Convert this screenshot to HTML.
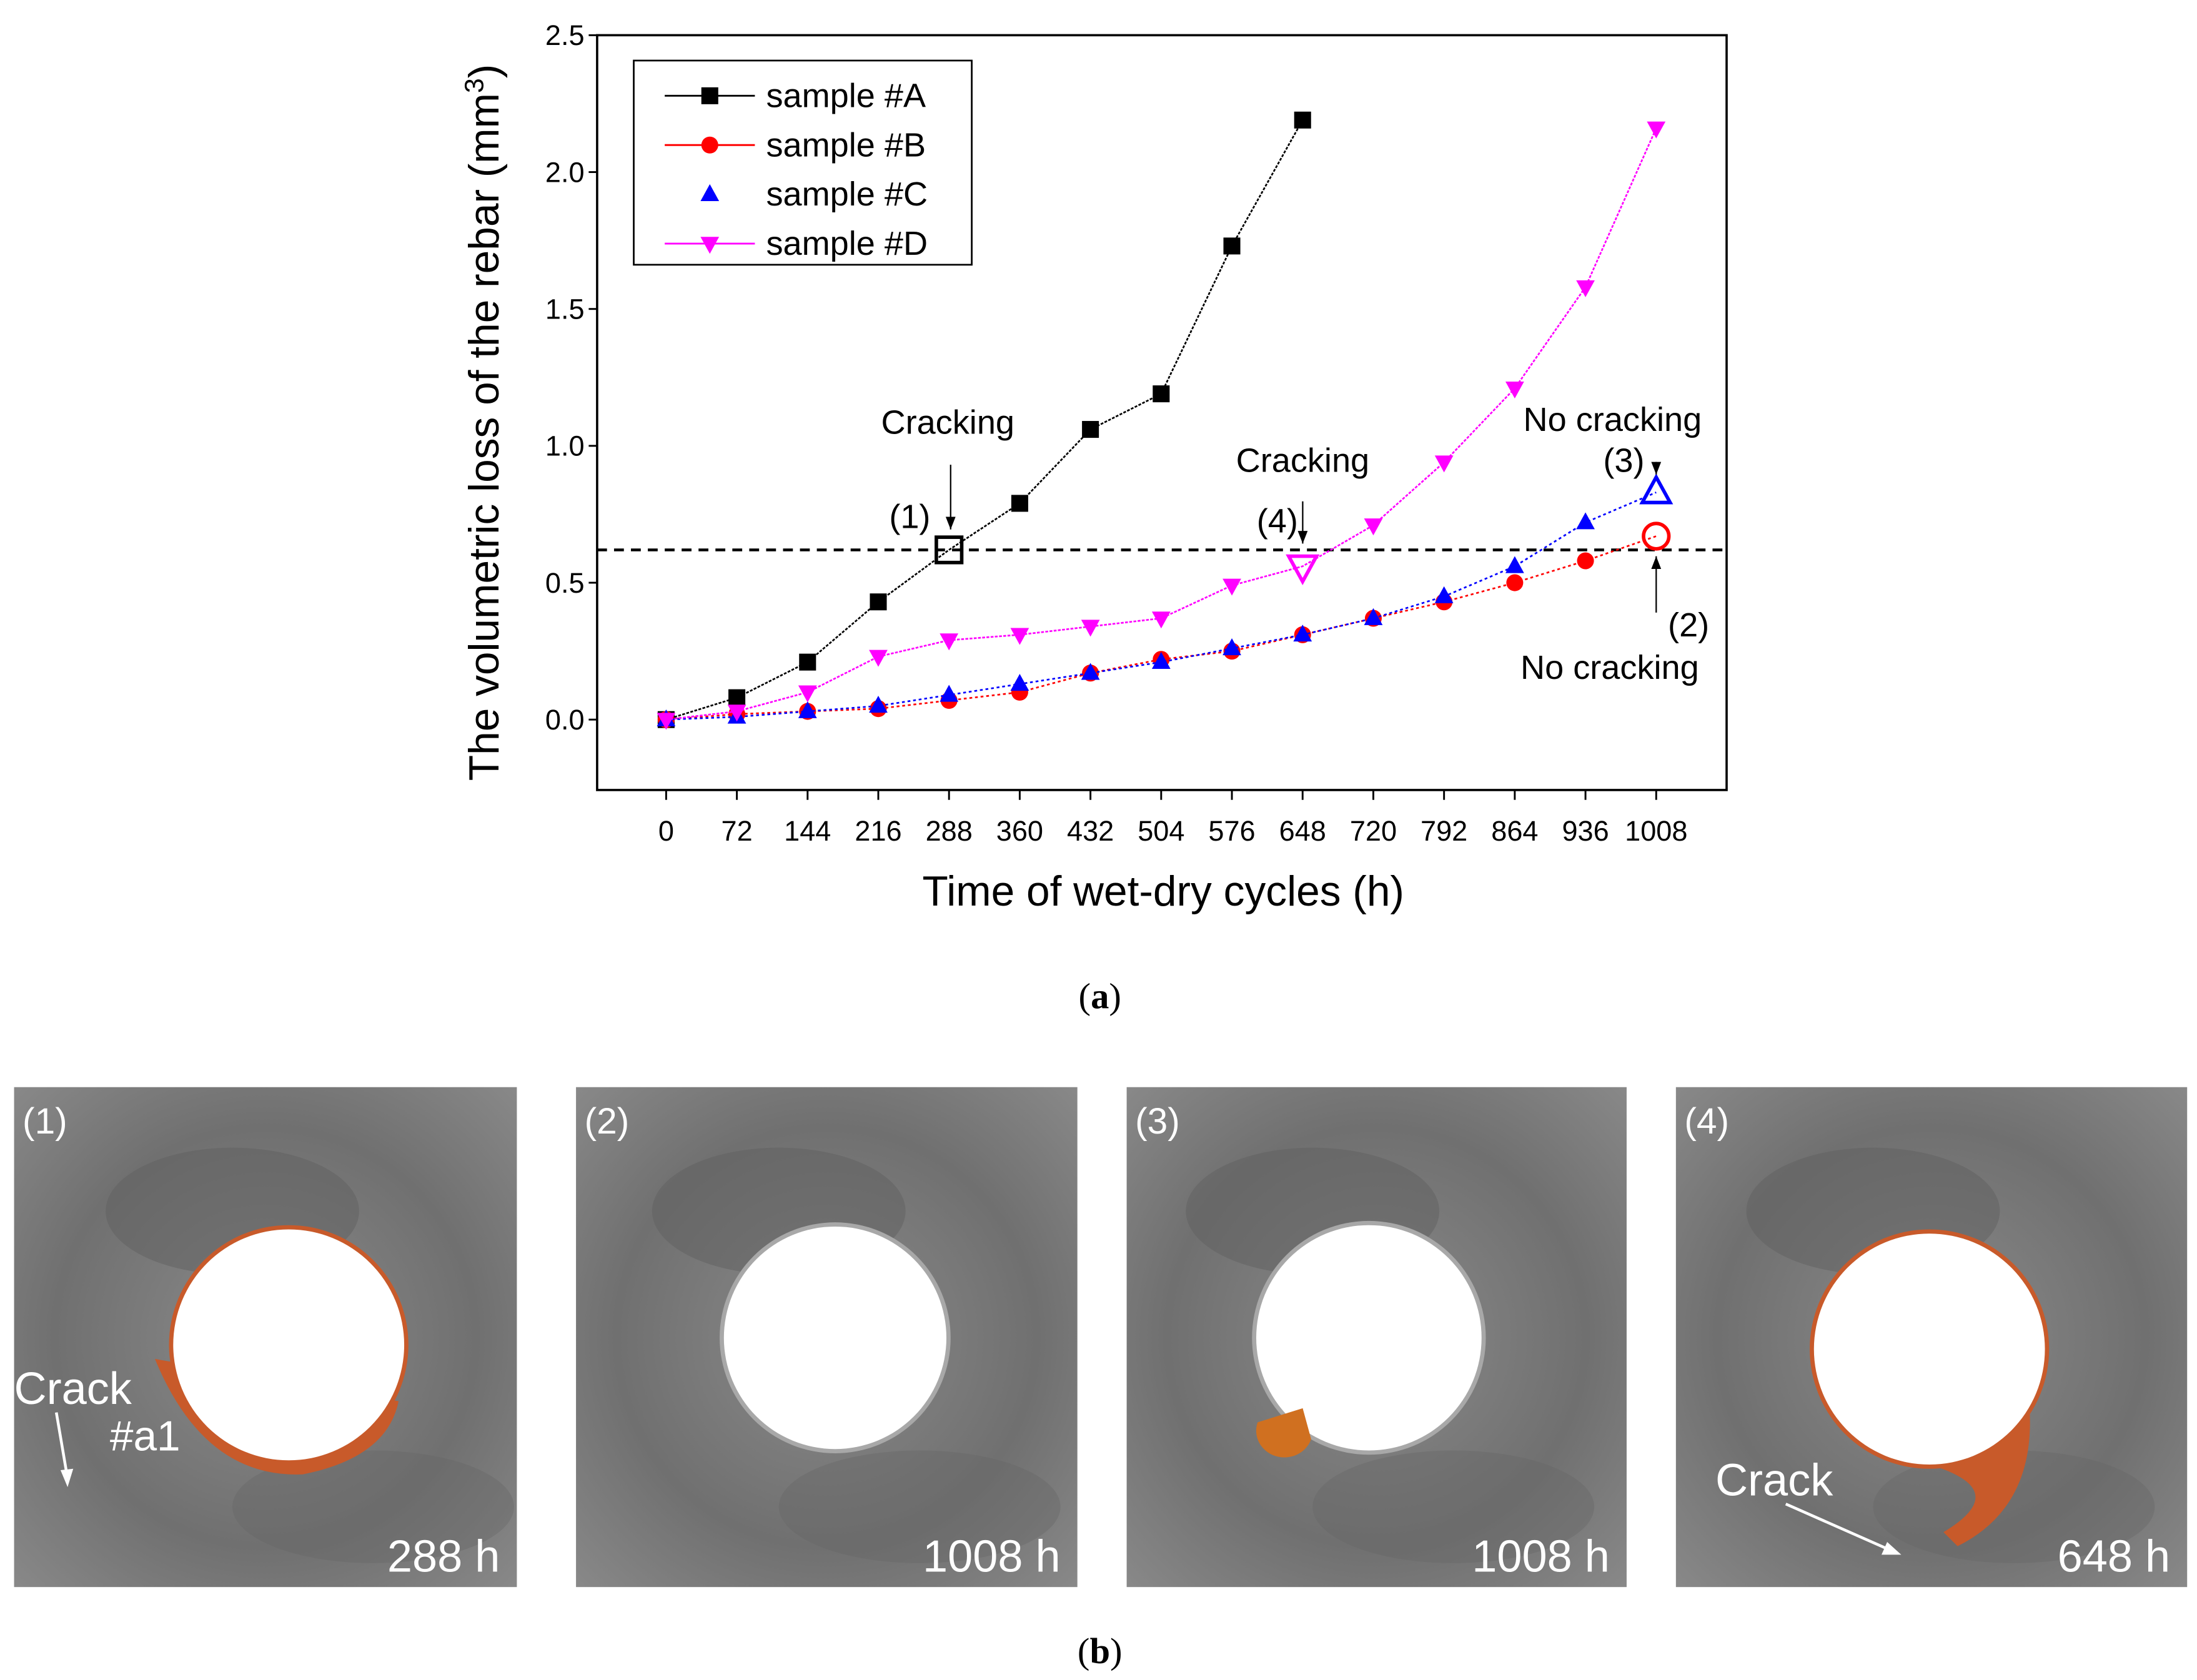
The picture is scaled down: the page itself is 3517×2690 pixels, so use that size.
<!DOCTYPE html>
<html><head><meta charset="utf-8">
<style>
html,body{margin:0;padding:0;background:#fff;}
svg{display:block;}
text{font-family:"Liberation Sans",sans-serif;}
</style></head>
<body>
<svg id="fig" width="3517" height="2690" viewBox="0 0 1560 1193" preserveAspectRatio="none" xmlns="http://www.w3.org/2000/svg">
<defs>
<radialGradient id="bg1" cx="0.5" cy="0.5" r="0.7"><stop offset="0" stop-color="#8a8a8a"/><stop offset="0.6" stop-color="#707070"/><stop offset="1" stop-color="#888"/></radialGradient>
</defs>
<rect width="1560" height="1193" fill="#fff"/>
<g id="chart"></g>
<text x="781" y="716" font-size="26" text-anchor="middle" style="font-family:'Liberation Serif',serif">(<tspan font-weight="bold">a</tspan>)</text>
<g id="photos"></g>
<text x="781" y="1181" font-size="26" text-anchor="middle" style="font-family:'Liberation Serif',serif">(<tspan font-weight="bold">b</tspan>)</text>
</svg>
<script>
const xCats = [0,72,144,216,288,360,432,504,576,648,720,792,864,936,1008];
const yTicks = [0,0.5,1.0,1.5,2.0,2.5];
const seriesA = [0,0.08,0.21,0.43,0.62,0.79,1.06,1.19,1.73,2.19];
const seriesB = [0,0.02,0.03,0.04,0.07,0.10,0.17,0.22,0.25,0.31,0.37,0.43,0.50,0.58,0.67];
const seriesC = [0,0.01,0.03,0.05,0.09,0.13,0.17,0.21,0.26,0.31,0.37,0.45,0.56,0.72,0.83];
const seriesD = [0,0.03,0.10,0.23,0.29,0.31,0.34,0.37,0.49,0.56,0.71,0.94,1.21,1.58,2.16];
const thresholdValue = 0.62;

const NS="http://www.w3.org/2000/svg";
const L=424,R=1226,T=25,B=561;
const X=v=>473+(v/1008)*(1176-473);
const Y=v=>511-(v/2.5)*(511-25);
const chart=document.getElementById('chart');
function mk(tag,attrs,parent){const e=document.createElementNS(NS,tag);for(const k in attrs)e.setAttribute(k,attrs[k]);(parent||chart).appendChild(e);return e;}
function txt(s,attrs,parent){const e=mk('text',attrs,parent);e.textContent=s;return e;}

let f=mk('rect',{x:L,y:T,width:R-L,height:B-T,fill:'none',stroke:'#000','stroke-width':1.6});


yTicks.forEach(v=>{
  let t=mk('line',{x1:L-6,x2:L,y1:Y(v),y2:Y(v),stroke:'#000','stroke-width':1.3});
  
  
  let l=txt(v.toFixed(1),{x:L-9,y:Y(v)+7,'font-size':20,'text-anchor':'end'});
  
  
});
xCats.forEach(v=>{
  let t=mk('line',{x1:X(v),x2:X(v),y1:B,y2:B+7,stroke:'#000','stroke-width':1.3});
  
  
  let l=txt(String(v),{x:X(v),y:597,'font-size':20,'text-anchor':'middle'});
  
  
});
let xt=txt('Time of wet-dry cycles (h)',{x:826,y:643,'font-size':30,'text-anchor':'middle'});


let yt=txt('',{x:0,y:0,'font-size':30,'text-anchor':'middle',transform:'translate(354,300) rotate(-90)'});
yt.innerHTML='The volumetric loss of the rebar (mm<tspan dy="-11" font-size="19">3</tspan><tspan dy="11">)</tspan>';



let th=mk('line',{x1:L,x2:R,y1:Y(thresholdValue),y2:Y(thresholdValue),stroke:'#000','stroke-width':2,'stroke-dasharray':'7,5'});



function marker(shape,x,y,color,s,open,g){
  const fill=open?'none':color, st=open?color:'none', sw=open?2.5:0;
  if(shape==='sq') return mk('rect',{x:x-s,y:y-s,width:2*s,height:2*s,fill,stroke:st,'stroke-width':sw},g);
  if(shape==='ci') return mk('circle',{cx:x,cy:y,r:s,fill,stroke:st,'stroke-width':sw},g);
  if(shape==='up') return mk('polygon',{points:`${x},${y-s*1.2} ${x-s*1.1},${y+s*0.8} ${x+s*1.1},${y+s*0.8}`,fill,stroke:st,'stroke-width':sw},g);
  return mk('polygon',{points:`${x},${y+s*1.2} ${x-s*1.1},${y-s*0.8} ${x+s*1.1},${y-s*0.8}`,fill,stroke:st,'stroke-width':sw},g);
}
const series=[
 {name:'a',data:seriesA,color:'#000',shape:'sq',open:4,dash:'2,1'},
 {name:'b',data:seriesB,color:'#f00',shape:'ci',open:14,dash:'2,2'},
 {name:'c',data:seriesC,color:'#00f',shape:'up',open:14,dash:'2,2'},
 {name:'d',data:seriesD,color:'#f0f',shape:'dn',open:9,dash:'2,1'}
];
series.forEach(s=>{
  const g=mk('g',{});
  
  
  const pts=s.data.map((v,i)=>X(xCats[i])+','+Y(v)).join(' ');
  let pl=mk('polyline',{points:pts,fill:'none',stroke:s.color,'stroke-width':1.2,'stroke-dasharray':s.dash},g);
  
  
  s.data.forEach((v,i)=>{
    const open=i===s.open;
    let m=marker(s.shape,X(xCats[i]),Y(v),s.color,open?9:6,open,g);
    
    
  });
});

const lg=mk('g',{});


mk('rect',{x:450,y:43,width:240,height:145,fill:'#fff',stroke:'#000','stroke-width':1.2},lg);
const legNames=['sample #A','sample #B','sample #C','sample #D'];
series.forEach((s,i)=>{
  const y=68+i*35;
  const e=mk('g',{},lg);
  
  
  if(s.name!=='c') mk('line',{x1:472,x2:536,y1:y,y2:y,stroke:s.color,'stroke-width':1.3},e);
  marker(s.shape,504,y,s.color,6,false,e);
  txt(legNames[i],{x:544,y:y+8,'font-size':24},e);
});

function arrow(x,y1,y2,name){
  const g=mk('g',{});
  
  
  mk('line',{x1:x,x2:x,y1:y1,y2:y2,stroke:'#000','stroke-width':1},g);
  const d=y2>y1?-1:1;
  mk('polygon',{points:`${x},${y2} ${x-3.5},${y2+d*9} ${x+3.5},${y2+d*9}`,fill:'#000'},g);
}
const ann=[['Cracking',673,308],['(1)',646,375],['Cracking',925,335],['(4)',907,378],['No cracking',1145,306],['(3)',1153,335],['(2)',1199,452],['No cracking',1143,482]];
ann.forEach((a,i)=>{
  let t=txt(a[0],{x:a[1],y:a[2],'font-size':24,'text-anchor':'middle'});
  
  
});
arrow(675,330,376,'arrow-1');
arrow(925,356,386,'arrow-4');
arrow(1176,328,337,'arrow-3');
arrow(1176,435,395,'arrow-2');

const photos=document.getElementById('photos');
const panels=[
 {x:10,w:357,cx:205,cy:955,r:82,lab:'(1)',time:'288 h'},
 {x:409,w:356,cx:593,cy:950,r:79,lab:'(2)',time:'1008 h'},
 {x:800,w:355,cx:972,cy:950,r:80,lab:'(3)',time:'1008 h'},
 {x:1190,w:363,cx:1370,cy:958,r:82,lab:'(4)',time:'648 h'}
];
panels.forEach((p,i)=>{
  const g=mk('g',{},photos);
  
  
  mk('rect',{x:p.x,y:772,width:p.w,height:355,fill:'url(#bg1)'},g);
  mk('ellipse',{cx:p.cx-40,cy:860,rx:90,ry:45,fill:'#5f5f5f',opacity:0.5},g);
  mk('ellipse',{cx:p.cx+60,cy:1070,rx:100,ry:40,fill:'#666',opacity:0.4},g);
  if(i===0) mk('path',{d:`M${p.cx-95},${p.cy+10} Q${p.cx-60},${p.cy+95} ${p.cx+10},${p.cy+92} Q${p.cx+70},${p.cy+80} ${p.cx+78},${p.cy+40} Z`,fill:'#c85a2a'},g);
  if(i===3) mk('path',{d:`M${p.cx},${p.cy+82} Q${p.cx+60},${p.cy+100} ${p.cx+10},${p.cy+130} L${p.cx+20},${p.cy+140} Q${p.cx+80},${p.cy+110} ${p.cx+70},${p.cy+30} Z`,fill:'#c85a2a'},g);
  mk('circle',{cx:p.cx,cy:p.cy,r:p.r+3,fill:(i===1||i===2)?'#a8a8a8':'#c85a2a'},g);
  mk('circle',{cx:p.cx,cy:p.cy,r:p.r,fill:'#fff'},g);
  let a=txt(p.lab,{x:p.x+6,y:805,'font-size':26,fill:'#fff'},g);
  
  
  let b=txt(p.time,{x:p.x+p.w-12,y:1116,'font-size':32,fill:'#fff','text-anchor':'end'},g);
  
  
});
mk('path',{d:'M893,1010 a18,17 0 1,0 38,12 L925,1000 Z',fill:'#d07020'},photos);
let c1=txt('Crack',{x:10,y:997,'font-size':32,fill:'#fff'},photos);


let c2=txt('#a1',{x:78,y:1030,'font-size':30,fill:'#fff'},photos);


mk('line',{x1:40,y1:1003,x2:48,y2:1050,stroke:'#fff','stroke-width':2},photos);
mk('polygon',{points:'48,1056 43,1044 52,1043',fill:'#fff'},photos);
let c3=txt('Crack',{x:1218,y:1062,'font-size':32,fill:'#fff'},photos);


mk('line',{x1:1268,y1:1068,x2:1345,y2:1102,stroke:'#fff','stroke-width':2},photos);
mk('polygon',{points:'1350,1104 1336,1104 1340,1095',fill:'#fff'},photos);
</script>
</body></html>
